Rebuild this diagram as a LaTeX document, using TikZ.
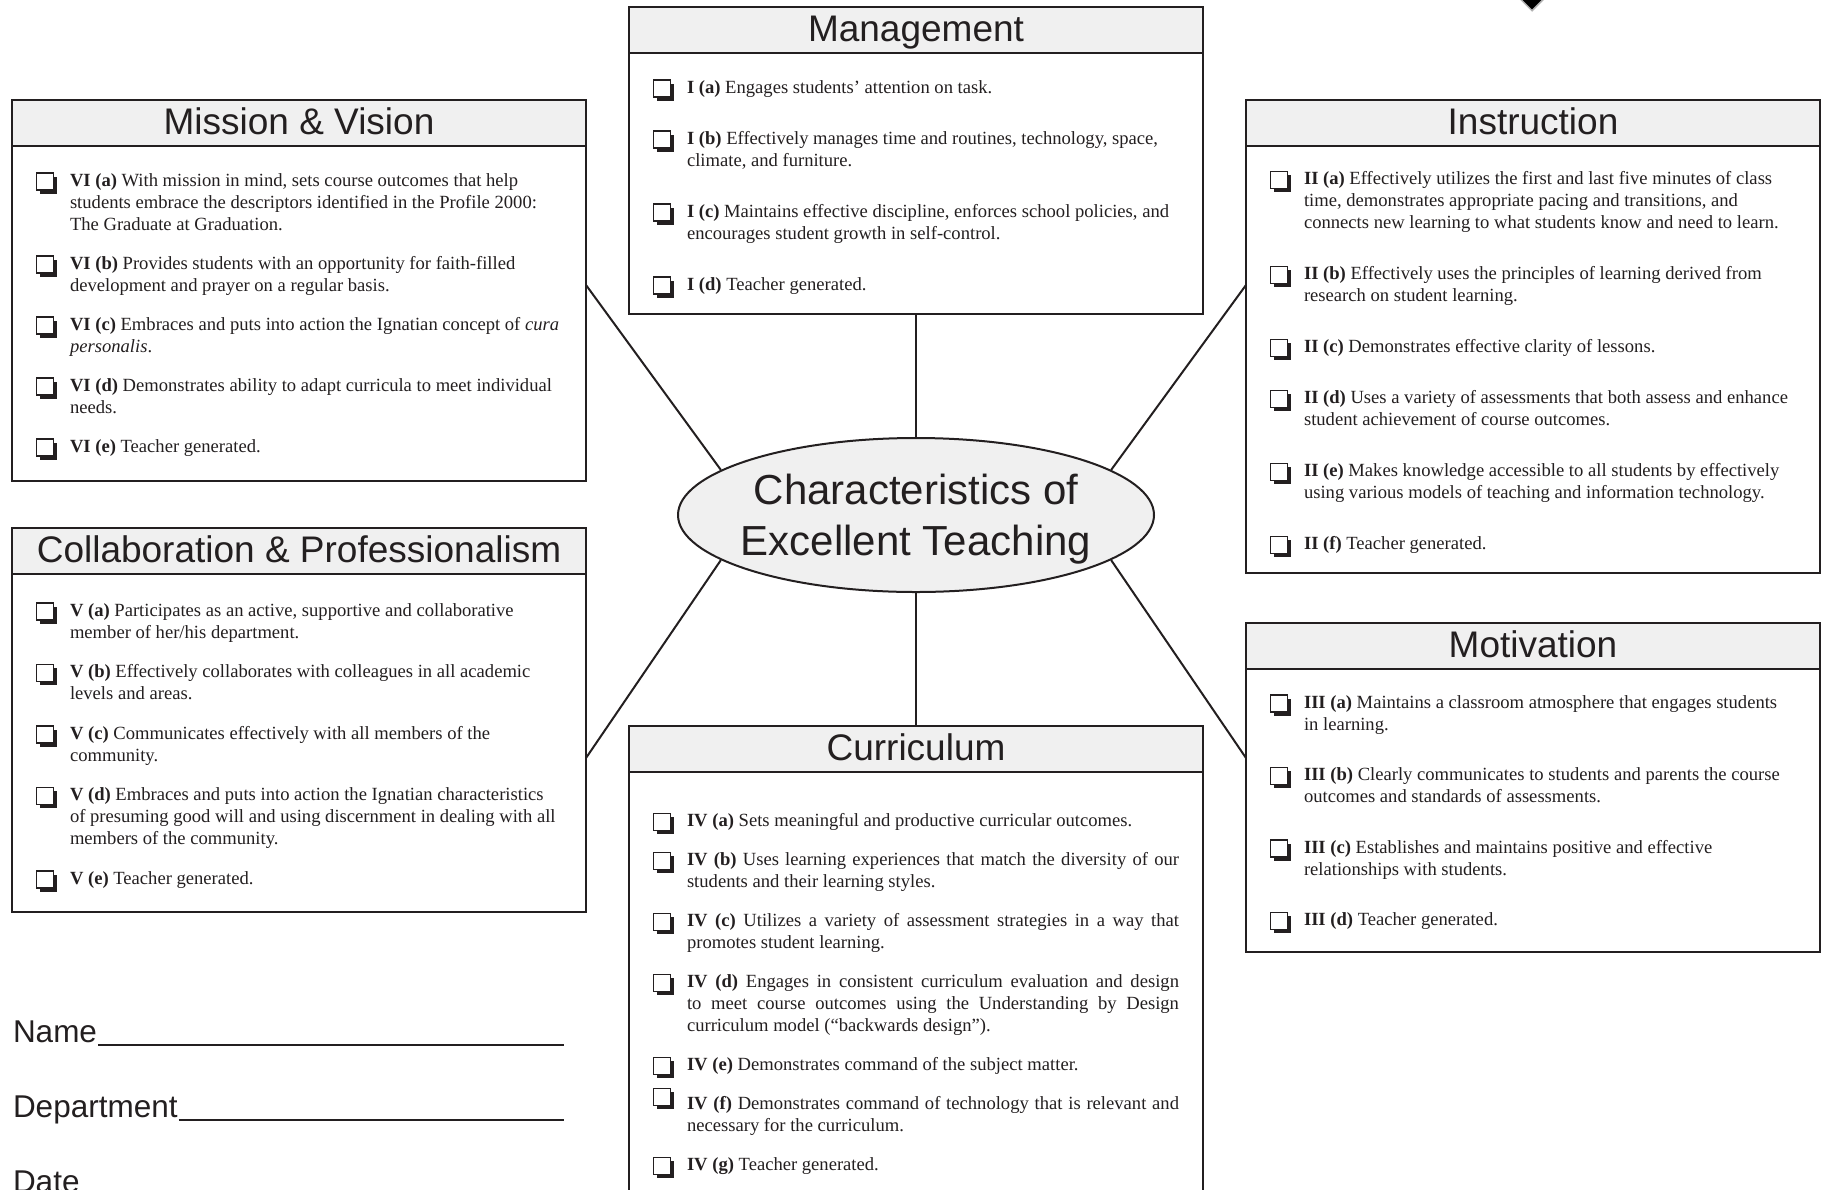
\documentclass[tikz,border=0pt]{standalone}
\usepackage{fontspec}
\setmainfont{Liberation Serif}
\setsansfont{Liberation Sans}
\usepackage{tikz}
\usetikzlibrary{positioning, shapes.geometric}
\definecolor{ink}{RGB}{35,31,32}
\definecolor{headgray}{RGB}{240,240,240}

\newlength{\critgap}
\newcommand{\chkbox}{\tikz[baseline=0pt, x=1pt, y=1pt]{\fill[ink] (3.5,-7.5) rectangle (20.5,9.5); \draw[ink, fill=white, line width=1.2pt] (0,-4) rectangle (17,13);}}
\newcommand{\crit}[3][0pt]{\hangindent=34pt\hangafter=1\noindent\makebox[34pt][l]{\raisebox{#1}[13pt][4pt]{\chkbox}}\textbf{#2} #3\par\vspace{\critgap}}
\newcommand{\critlist}[4]{\parbox[c][#1][t]{526pt}{\fontsize{18.6}{22}\selectfont\setlength{\critgap}{#3}\vspace*{#2}#4}}

\begin{document}
\begin{tikzpicture}[x=1pt, y=-1pt, line width=2pt, color=ink,
  head/.style={draw, fill=headgray, minimum width=574pt, minimum height=46pt, inner sep=0pt, outer sep=0pt, text height=28pt, text depth=6pt, font=\sffamily\fontsize{37}{40}\selectfont},
  body/.style={draw, fill=white, inner xsep=24pt, inner ysep=0pt, outer sep=0pt},
  field/.style={anchor=base west, inner sep=0pt, font=\sffamily\fontsize{31.5}{36}\selectfont}]
  \useasboundingbox (0,0) rectangle (1822,1189);
  \clip (0,0) rectangle (1822,1189);

  \node[ellipse, draw, fill=headgray, minimum width=476pt, minimum height=154pt, inner xsep=-14pt, inner ysep=0pt, align=center, text depth=0pt, font=\sffamily\fontsize{42}{51}\selectfont] (ell) at (916,515) {Characteristics of\\Excellent Teaching};

  \node[head, anchor=north west] (mgmthead) at (629,7) {Management};
  \node[body, below=0pt of mgmthead] (mgmtbody) {\critlist{261pt}{27pt}{29pt}{\raggedright
    \crit{I (a)}{Engages students’ attention on task.}
    \crit{I (b)}{Effectively manages time and routines, technology, space,\newline climate, and furniture.}
    \crit{I (c)}{Maintains effective discipline, enforces school policies, and\newline encourages student growth in self-control.}
    \crit{I (d)}{Teacher generated.}}};

  \node[head, anchor=north west] (mishead) at (12,100) {Mission \& Vision};
  \node[body, below=0pt of mishead] (misbody) {\critlist{335pt}{27pt}{17pt}{\raggedright
    \crit{VI (a)}{With mission in mind, sets course outcomes that help\newline students embrace the descriptors identified in the Profile 2000:\newline The Graduate at Graduation.}
    \crit{VI (b)}{Provides students with an opportunity for faith-filled\newline development and prayer on a regular basis.}
    \crit{VI (c)}{Embraces and puts into action the Ignatian concept of \textit{cura\newline personalis}.}
    \crit{VI (d)}{Demonstrates ability to adapt curricula to meet individual\newline needs.}
    \crit{VI (e)}{Teacher generated.}}};

  \node[head, anchor=north west] (insthead) at (1246,100) {Instruction};
  \node[body, below=0pt of insthead] (instbody) {\critlist{427pt}{25pt}{29pt}{\raggedright
    \crit{II (a)}{Effectively utilizes the first and last five minutes of class\newline time, demonstrates appropriate pacing and transitions, and\newline connects new learning to what students know and need to learn.}
    \crit{II (b)}{Effectively uses the principles of learning derived from\newline research on student learning.}
    \crit{II (c)}{Demonstrates effective clarity of lessons.}
    \crit{II (d)}{Uses a variety of assessments that both assess and enhance\newline student achievement of course outcomes.}
    \crit{II (e)}{Makes knowledge accessible to all students by effectively\newline using various models of teaching and information technology.}
    \crit{II (f)}{Teacher generated.}}};

  \node[head, anchor=north west] (collhead) at (12,528) {Collaboration \& Professionalism};
  \node[body, below=0pt of collhead] (collbody) {\critlist{338pt}{29pt}{17.5pt}{\raggedright
    \crit{V (a)}{Participates as an active, supportive and collaborative\newline member of her/his department.}
    \crit{V (b)}{Effectively collaborates with colleagues in all academic\newline levels and areas.}
    \crit{V (c)}{Communicates effectively with all members of the\newline community.}
    \crit{V (d)}{Embraces and puts into action the Ignatian characteristics\newline of presuming good will and using discernment in dealing with all\newline members of the community.}
    \crit{V (e)}{Teacher generated.}}};

  \node[head, anchor=north west] (motihead) at (1246,623) {Motivation};
  \node[body, below=0pt of motihead] (motibody) {\critlist{283pt}{26pt}{28.5pt}{\raggedright
    \crit{III (a)}{Maintains a classroom atmosphere that engages students\newline in learning.}
    \crit{III (b)}{Clearly communicates to students and parents the course\newline outcomes and standards of assessments.}
    \crit{III (c)}{Establishes and maintains positive and effective\newline relationships with students.}
    \crit{III (d)}{Teacher generated.}}};

  \node[head, anchor=north west] (curhead) at (629,726) {Curriculum};
  \node[body, below=0pt of curhead] (curbody) {\critlist{440pt}{41pt}{17pt}{
    \crit{IV (a)}{Sets meaningful and productive curricular outcomes.}
    \crit{IV (b)}{Uses learning experiences that match the diversity of our\linebreak students and their learning styles.}
    \crit{IV (c)}{Utilizes a variety of assessment strategies in a way that\linebreak promotes student learning.}
    \crit{IV (d)}{Engages in consistent curriculum evaluation and design\linebreak to meet course outcomes using the Understanding by Design\linebreak curriculum model (“backwards design”).}
    \crit{IV (e)}{Demonstrates command of the subject matter.}
    \crit[8pt]{IV (f)}{Demonstrates command of technology that is relevant and\linebreak necessary for the curriculum.}
    \crit{IV (g)}{Teacher generated.}}};

  \draw (mgmtbody.south) -- (ell.north);
  \draw (ell.south) -- (curhead.north);
  \draw (ell.167) -- ([yshift=28.5pt]misbody.east);
  \draw (ell.193) -- ([yshift=-15pt]collbody.east);
  \draw (ell.13) -- ([yshift=74.5pt]instbody.west);
  \draw (ell.-13) -- ([yshift=52.5pt]motibody.west);

  \node[field] (name) at (12,1042) {Name};
  \node[field] (dept) at (12,1117) {Department};
  \node[field] (date) at (12,1192) {Date};
  \coordinate (rule end) at (564,0);
  \draw ([yshift=-3pt]name.base east) -- ([yshift=-3pt]name.base east -| rule end);
  \draw ([yshift=-3pt]dept.base east) -- ([yshift=-3pt]dept.base east -| rule end);

  \node[diamond, fill=black, draw=gray!60, line width=1.5pt, minimum size=30pt, inner sep=0pt] (mark) at (1532,-4) {};
\end{tikzpicture}
\end{document}
